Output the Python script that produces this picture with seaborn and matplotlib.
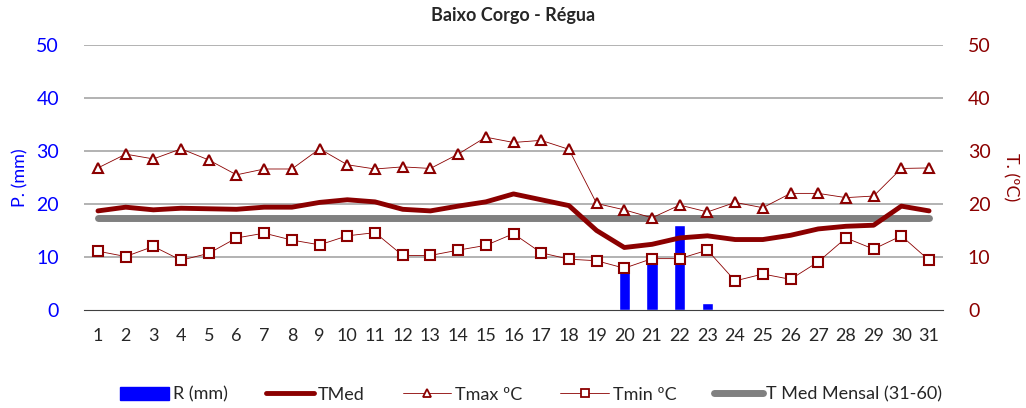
import numpy as np
import pandas as pd
import matplotlib
matplotlib.use('Agg')
import matplotlib.pyplot as plt
import seaborn as sns
from matplotlib.patches import Patch
from matplotlib.lines import Line2D

days = list(range(1, 32))
rain = [0, 0, 0, 0, 0, 0, 0, 0, 0, 0, 0, 0, 0, 0, 0, 0, 0, 0, 0,
        8.2, 8.8, 16.0, 1.3, 0, 0, 0, 0, 0, 0, 0, 0]
tmed = [18.7, 19.4, 18.9, 19.2, 19.1, 19.0, 19.4, 19.4, 20.3, 20.8, 20.4,
        19.0, 18.7, 19.6, 20.4, 21.9, 20.8, 19.7, 15.0, 11.8, 12.4, 13.6,
        14.0, 13.3, 13.3, 14.1, 15.3, 15.8, 16.0, 19.6, 18.7]
tmax = [26.8, 29.4, 28.5, 30.4, 28.3, 25.5, 26.6, 26.6, 30.4, 27.4, 26.6,
        27.0, 26.7, 29.4, 32.6, 31.6, 32.0, 30.3, 20.1, 18.9, 17.4, 19.8,
        18.5, 20.3, 19.3, 22.0, 22.0, 21.2, 21.5, 26.7, 26.8]
tmin = [11.1, 10.1, 12.0, 9.4, 10.7, 13.6, 14.5, 13.2, 12.3, 14.0, 14.6,
        10.3, 10.3, 11.3, 12.2, 14.4, 10.8, 9.6, 9.3, 7.9, 9.7, 9.7,
        11.3, 5.5, 6.8, 5.8, 9.1, 13.6, 11.5, 14.0, 9.4]
tmed_mensal = 17.4

df = pd.DataFrame({'day': days, 'rain': rain, 'tmed': tmed,
                   'tmax': tmax, 'tmin': tmin})
df['mensal'] = tmed_mensal

sns.set_style('white')
plt.rcParams['font.family'] = ['Lato', 'DejaVu Sans']

RED = '#8B0000'
BLUE = '#0000FF'

fig = plt.figure(figsize=(10.26, 4.08), dpi=100)
ax = fig.add_axes([0.082, 0.240, 0.837, 0.650])

# grid
for v in [10, 20, 30, 40, 50]:
    ax.axhline(v, color='#A6A6A6', lw=1.2, zorder=0)

sns.barplot(data=df, x='day', y='rain', native_scale=True, width=0.4,
            color=BLUE, saturation=1, ax=ax, zorder=2)
sns.lineplot(data=df, x='day', y='mensal', color='#808080', lw=5,
             ax=ax, zorder=3, solid_capstyle='round')
sns.lineplot(data=df, x='day', y='tmax', color=RED, lw=0.6, marker='^',
             markersize=7, markerfacecolor='white', markeredgecolor=RED,
             markeredgewidth=1.5, ax=ax, zorder=4)
sns.lineplot(data=df, x='day', y='tmin', color=RED, lw=0.6, marker='s',
             markersize=7, markerfacecolor='white', markeredgecolor=RED,
             markeredgewidth=1.5, ax=ax, zorder=4)
sns.lineplot(data=df, x='day', y='tmed', color=RED, lw=3.5, ax=ax,
             zorder=5, solid_joinstyle='round', solid_capstyle='round')

ax.set_xlim(0.5, 31.5)
ax.set_ylim(0, 50)
ax.set_xticks(days)
ax.set_xticklabels([str(d) for d in days], fontsize=13)
ax.set_xticks(np.arange(0.5, 32, 1), minor=True)
ax.tick_params(axis='x', which='major', length=0, pad=13)
ax.tick_params(axis='x', which='minor', length=5, color='#404040', width=1,
               direction='out')
ax.set_yticks([0, 10, 20, 30, 40, 50])
ax.tick_params(axis='y', labelsize=14, labelcolor=BLUE, length=0, pad=18)
ax.set_xlabel('')
ax.set_ylabel('P. (mm)', color=BLUE, fontsize=13, labelpad=6)
for s in ['top', 'left', 'right']:
    ax.spines[s].set_visible(False)
ax.spines['bottom'].set_color('#404040')

ax2 = ax.twinx()
ax2.set_ylim(0, 50)
ax2.set_yticks([0, 10, 20, 30, 40, 50])
ax2.tick_params(axis='y', labelsize=14, labelcolor=RED, length=0, pad=18)
ax2.set_ylabel('T. (ºC)', color=RED, fontsize=13, rotation=270,
               labelpad=20)
for s in ax2.spines.values():
    s.set_visible(False)

fig.text(0.5, 0.962, 'Baixo Corgo - Régua', ha='center', va='center',
         fontsize=13, fontweight='bold')

handles = [
    Patch(facecolor=BLUE, edgecolor=BLUE),
    Line2D([], [], color=RED, lw=3.5),
    Line2D([], [], color=RED, lw=0.6, marker='^', markersize=6,
           markerfacecolor='white', markeredgecolor=RED, markeredgewidth=1.3),
    Line2D([], [], color=RED, lw=0.6, marker='s', markersize=6,
           markerfacecolor='white', markeredgecolor=RED, markeredgewidth=1.3),
    Line2D([], [], color='#808080', lw=5, solid_capstyle='round'),
]
labels = ['R (mm)', 'TMed', 'Tmax ºC', 'Tmin ºC', 'T Med Mensal (31-60)']
fig.legend(handles, labels, loc='center', bbox_to_anchor=(0.518, 0.033),
           ncol=5, frameon=False, fontsize=13, handlelength=2.7,
           handletextpad=0.2, columnspacing=2.1)

fig.savefig('out.png', dpi=100)
